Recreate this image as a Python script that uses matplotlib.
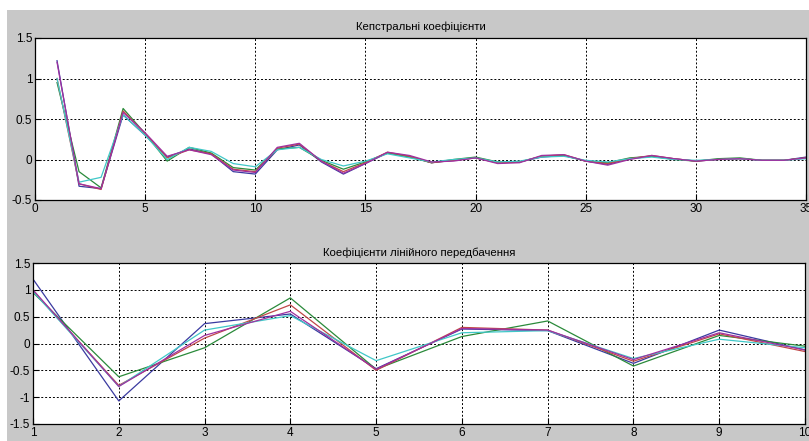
import numpy as np
import matplotlib
matplotlib.use("Agg")
import matplotlib.pyplot as plt
from matplotlib.patches import Rectangle

# cepstral coefficients, index 1..35
cep_x = list(range(1, 36))
cep_blue = [1.22, -0.33, -0.36, 0.55, 0.30, 0.03, 0.13, 0.07, -0.15, -0.18,
            0.12, 0.18, -0.03, -0.18, -0.05, 0.08, 0.04, -0.04, -0.01, 0.02,
            -0.04, -0.03, 0.03, 0.05, -0.02, -0.06, 0.01, 0.04, 0.01, -0.02,
            0.00, 0.01, -0.01, -0.01, 0.03]
cep_green = [0.95, -0.15, -0.35, 0.63, 0.32, -0.02, 0.15, 0.08, -0.10, -0.13,
             0.13, 0.15, -0.01, -0.12, -0.03, 0.08, 0.03, -0.04, 0.00, 0.03,
             -0.03, -0.03, 0.04, 0.05, -0.02, -0.04, 0.02, 0.04, 0.00, -0.02,
             0.01, 0.02, -0.01, -0.01, 0.02]
cep_red = [1.00, -0.30, -0.37, 0.60, 0.32, 0.02, 0.12, 0.07, -0.12, -0.15,
           0.14, 0.19, -0.02, -0.15, -0.04, 0.09, 0.04, -0.04, -0.01, 0.02,
           -0.04, -0.03, 0.04, 0.06, -0.02, -0.05, 0.01, 0.05, 0.01, -0.02,
           0.00, 0.01, -0.01, -0.01, 0.02]
cep_cyan = [1.00, -0.28, -0.22, 0.55, 0.30, 0.00, 0.15, 0.10, -0.05, -0.09,
            0.12, 0.15, 0.00, -0.08, -0.02, 0.07, 0.02, -0.03, 0.00, 0.02,
            -0.03, -0.02, 0.03, 0.04, -0.01, -0.03, 0.01, 0.03, 0.00, -0.01,
            0.00, 0.01, -0.01, -0.01, 0.01]
cep_magenta = [1.20, -0.30, -0.36, 0.58, 0.33, 0.04, 0.12, 0.06, -0.13, -0.16,
               0.15, 0.20, -0.02, -0.17, -0.05, 0.09, 0.05, -0.03, -0.02, 0.02,
               -0.05, -0.04, 0.05, 0.06, -0.02, -0.07, 0.00, 0.05, 0.01, -0.02,
               0.00, 0.01, -0.01, -0.01, 0.02]

# linear prediction coefficients, index 1..10
lpc_x = list(range(1, 11))
lpc_blue = [1.20, -1.07, 0.37, 0.55, -0.47, 0.27, 0.24, -0.37, 0.25, -0.12]
lpc_green = [0.95, -0.62, -0.08, 0.85, -0.48, 0.13, 0.42, -0.42, 0.15, -0.05]
lpc_red = [0.98, -0.78, 0.10, 0.72, -0.50, 0.30, 0.25, -0.33, 0.18, -0.15]
lpc_cyan = [0.97, -0.80, 0.25, 0.52, -0.32, 0.20, 0.24, -0.28, 0.08, -0.08]
lpc_magenta = [1.00, -0.80, 0.15, 0.60, -0.48, 0.28, 0.25, -0.30, 0.20, -0.12]

colors = ['#3a3aa0', '#2a8a3a', '#c04848', '#40c8c8', '#a030a0']

fig = plt.figure(figsize=(8.09, 4.41), dpi=100, facecolor='#c8c8c8')
# white margin of the screenshot
fig.patches.append(Rectangle((0, 1 - 10/441), 1, 10/441, transform=fig.transFigure,
                             facecolor='white', edgecolor='none', zorder=-1))
fig.patches.append(Rectangle((0, 0), 7/809, 1, transform=fig.transFigure,
                             facecolor='white', edgecolor='none', zorder=-1))

plt.rcParams['font.family'] = ['Liberation Sans', 'DejaVu Sans']

ax1 = fig.add_axes([35/809, 1 - 200/441, 771/809, 162/441])
ax2 = fig.add_axes([33/809, 1 - 424/441, 772/809, 161/441])

for ys, c in zip([cep_blue, cep_green, cep_red, cep_cyan, cep_magenta], colors):
    ax1.plot(cep_x, ys, color=c, lw=0.9)
for ys, c in zip([lpc_blue, lpc_green, lpc_red, lpc_cyan, lpc_magenta], colors):
    ax2.plot(lpc_x, ys, color=c, lw=0.9)

ax1.set_xlim(0, 35)
ax1.set_ylim(-0.5, 1.5)
ax1.set_xticks(range(0, 36, 5))
ax1.set_yticks([-0.5, 0, 0.5, 1, 1.5])
ax1.set_yticklabels(['-0.5', '0', '0.5', '1', '1.5'])
ax1.set_title('Кепстральні коефіцієнти', fontsize=8.2, pad=6)

ax2.set_xlim(1, 10)
ax2.set_ylim(-1.5, 1.5)
ax2.set_xticks(range(1, 11))
ax2.set_yticks([-1.5, -1, -0.5, 0, 0.5, 1, 1.5])
ax2.set_yticklabels(['-1.5', '-1', '-0.5', '0', '0.5', '1', '1.5'])
ax2.set_title('Коефіцієнти лінійного передбачення', fontsize=8.2, pad=5)

for ax in (ax1, ax2):
    ax.set_facecolor('white')
    ax.grid(True, color='black', linestyle=(0, (2, 2)), linewidth=0.7)
    ax.tick_params(direction='in', length=4, labelsize=8.5, pad=2, colors='black')
    for s in ax.spines.values():
        s.set_linewidth(0.9)

fig.savefig('out.png', dpi=100, facecolor=fig.get_facecolor())
